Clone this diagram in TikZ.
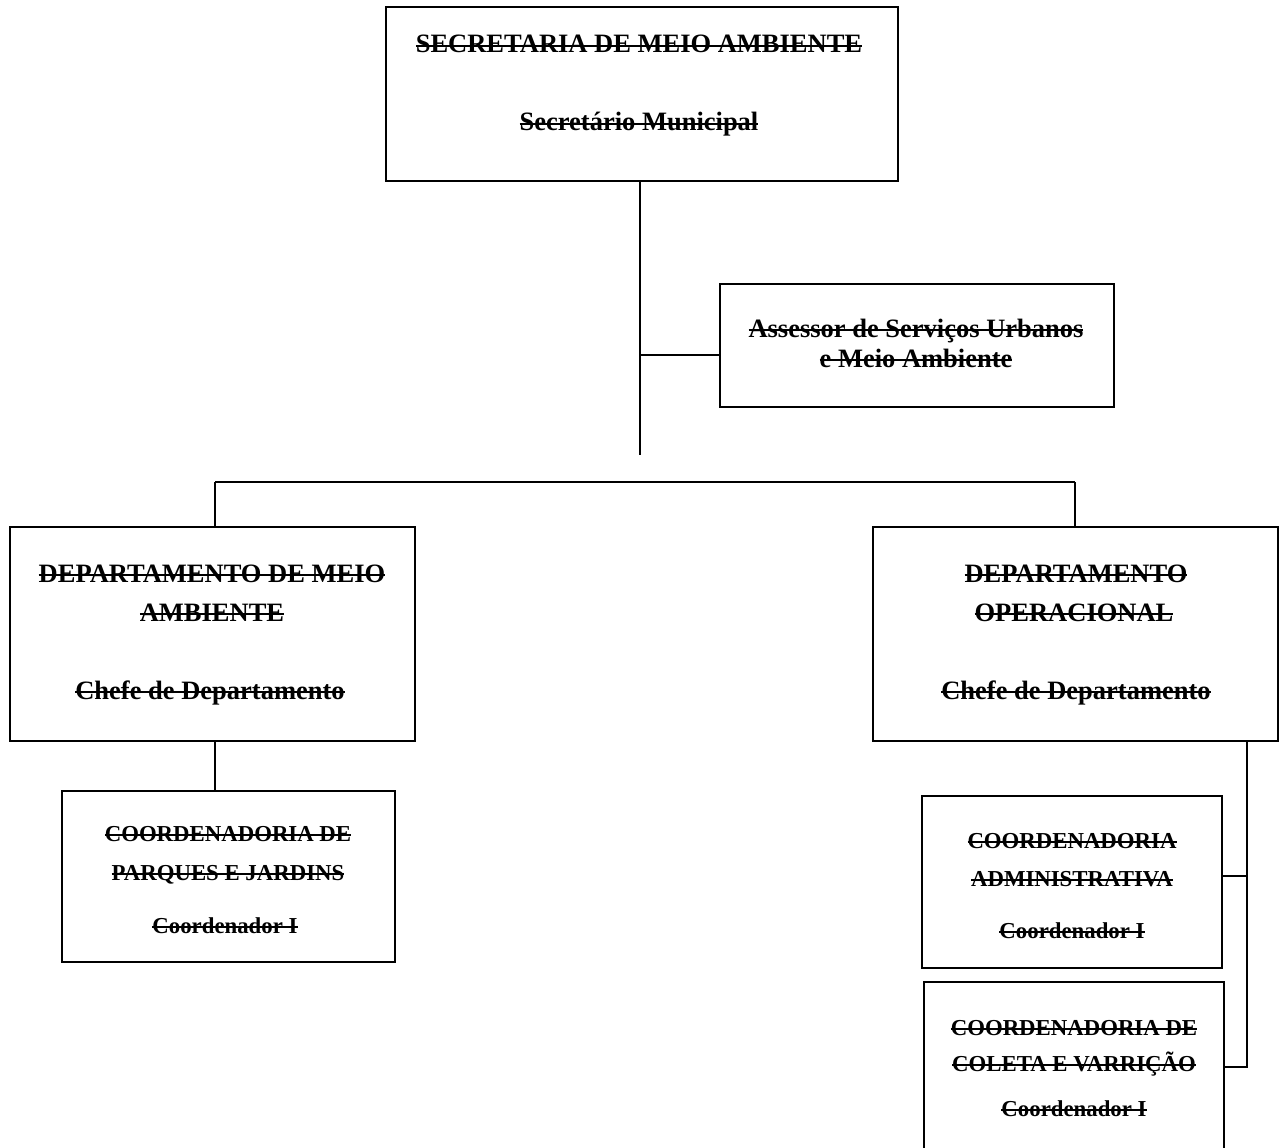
\documentclass[tikz,border=0pt]{standalone}
\usepackage{fontspec}
\setmainfont{Liberation Serif}
\newcommand{\strk}[1]{\setbox0\hbox{#1}\rlap{\rule[0.22em]{\wd0}{0.08em}}\box0}
\begin{document}
\begin{tikzpicture}[x=1pt,y=-1pt,
  box/.style={draw, line width=1.8pt, inner sep=0pt, outer sep=0pt, anchor=north west},
  conn/.style={line width=1.8pt},
  big/.style={anchor=base, inner sep=0pt, font=\fontsize{26.5}{30}\selectfont\bfseries},
  small/.style={anchor=base, inner sep=0pt, font=\fontsize{22.8}{27}\selectfont\bfseries}]
\useasboundingbox (0,0) rectangle (1286,1148);
\clip (0,0) rectangle (1286,1148);
\fill[white] (0,0) rectangle (1286,1148);
% boxes
\node[box, minimum width=512pt, minimum height=174pt] (sec) at (386,7) {};
\node[box, minimum width=394pt, minimum height=123pt] (asr) at (720,284) {};
\node[box, minimum width=405pt, minimum height=214pt] (dma) at (10,527) {};
\node[box, minimum width=405pt, minimum height=214pt] (dop) at (873,527) {};
\node[box, minimum width=333pt, minimum height=171pt] (cpj) at (62,791) {};
\node[box, minimum width=300pt, minimum height=172pt] (cad) at (922,796) {};
\node[box, minimum width=300pt, minimum height=230pt] (ccv) at (924,982) {};
% texts
\node[big] (sec1) at (639,53) {\strk{SECRETARIA DE MEIO AMBIENTE}};
\node[big] (sec2) at (639,131) {\strk{Secretário Municipal}};
\node[big] (asr1) at (916,337) {\strk{Assessor de Serviços Urbanos}};
\node[big] (asr2) at (916,367) {\strk{e Meio Ambiente}};
\node[big] (dma1) at (212,582) {\strk{DEPARTAMENTO DE MEIO}};
\node[big] (dma2) at (212,621) {\strk{AMBIENTE}};
\node[big] (dma3) at (210,699) {\strk{Chefe de Departamento}};
\node[big] (dop1) at (1076,582) {\strk{DEPARTAMENTO}};
\node[big] (dop2) at (1074,621) {\strk{OPERACIONAL}};
\node[big] (dop3) at (1076,699) {\strk{Chefe de Departamento}};
\node[small] (cpj1) at (228,841) {\strk{COORDENADORIA DE}};
\node[small] (cpj2) at (228,880) {\strk{PARQUES E JARDINS}};
\node[small] (cpj3) at (225,933) {\strk{Coordenador I}};
\node[small] (cad1) at (1072,848) {\strk{COORDENADORIA}};
\node[small] (cad2) at (1072,886) {\strk{ADMINISTRATIVA}};
\node[small] (cad3) at (1072,938) {\strk{Coordenador I}};
\node[small] (ccv1) at (1074,1035) {\strk{COORDENADORIA DE}};
\node[small] (ccv2) at (1074,1071) {\strk{COLETA E VARRIÇÃO}};
\node[small] (ccv3) at (1074,1116) {\strk{Coordenador I}};
% connectors
\coordinate (hub) at (640,455);
\coordinate (ja) at (640,355);
\coordinate (busL) at (215,482);
\coordinate (busR) at (1075,482);
\coordinate (rv) at (1247,1067);
\coordinate (ra) at (1247,876);
\draw[conn] (sec.south -| hub) -- (hub);
\draw[conn] (ja) -- (ja -| asr.west);
\draw[conn] (busL) -- (busR);
\draw[conn] (busL) -- (busL |- dma.north);
\draw[conn] (busR) -- (busR |- dop.north);
\draw[conn] (busL |- dma.south) -- (busL |- cpj.north);
\draw[conn] (rv |- dop.south) -- (rv) -- (rv -| ccv.east);
\draw[conn] (ra) -- (ra -| cad.east);
\end{tikzpicture}
\end{document}
